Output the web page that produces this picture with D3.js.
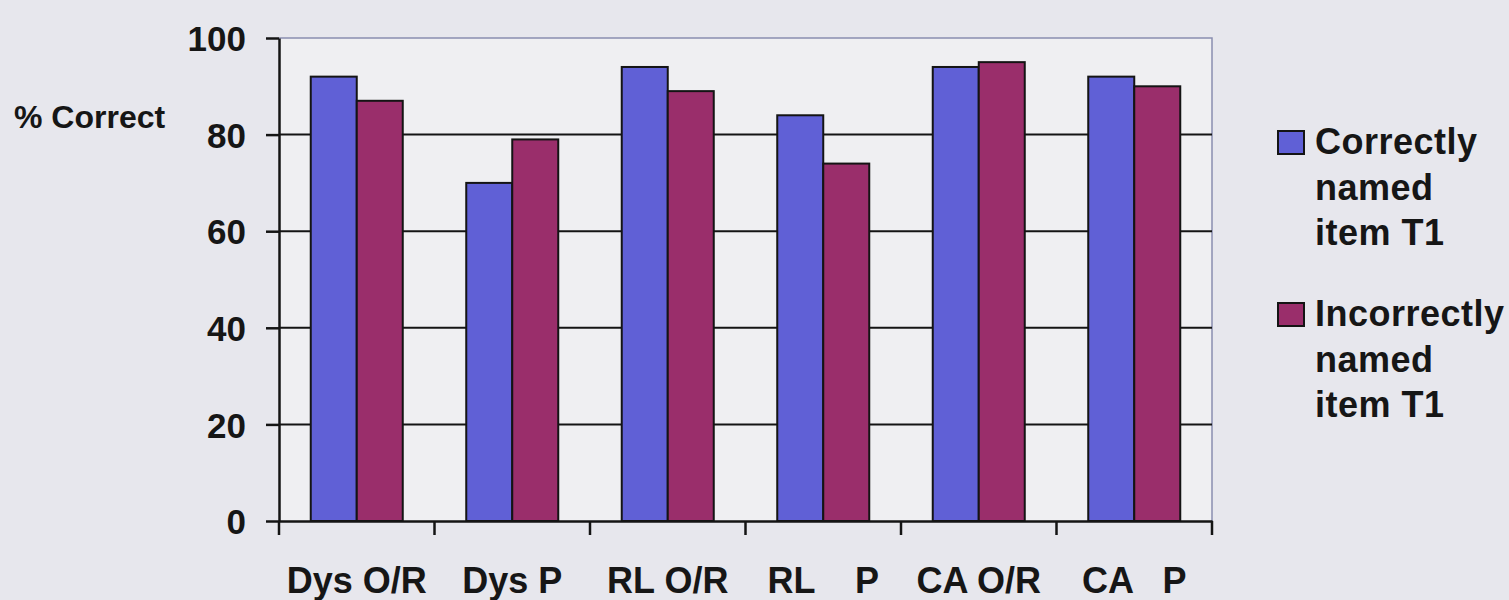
<!DOCTYPE html>
<html>
<head>
<meta charset="utf-8">
<script src="https://cdn.jsdelivr.net/npm/d3@7"></script>
<style>
  body { margin: 0; background: #e7e7ed; }
  text { font-family: "Liberation Sans", Arial, sans-serif; font-weight: bold; fill: #161616; }
</style>
</head>
<body>
<div id="chart"></div>
<script>
const categories = ['Dys O/R', 'Dys P', 'RL O/R', 'RL    P', 'CA O/R', 'CA   P']
const seriesNames = ['Correctly named item T1', 'Incorrectly named item T1']
const correctlyNamed = [92, 70, 94, 84, 94, 92]
const incorrectlyNamed = [87, 79, 89, 74, 95, 90]
const yTicks = [0, 20, 40, 60, 80, 100]
const legendLines = [['Correctly', 'named', 'item T1'], ['Incorrectly', 'named', 'item T1']]
const colors = ['#6060d6', '#9a2e6b']

const width = 1509
const height = 600
const plot = { left: 279, right: 1212, top: 38, bottom: 521 }

const svg = d3.select('#chart')
  .append('svg')
  .attr('width', width)
  .attr('height', height)

svg.append('rect')
  .attr('width', width)
  .attr('height', height)
  .attr('fill', '#e7e7ed')

const x = d3.scaleBand()
  .domain(categories)
  .range([plot.left, plot.right])
  .padding(0)

const xs = d3.scaleBand()
  .domain(seriesNames)
  .range([0, x.bandwidth()])
  .paddingInner(0)
  .paddingOuter(0.69)

const y = d3.scaleLinear()
  .domain([0, 100])
  .range([plot.bottom, plot.top])

// plot area
svg.append('rect')
  .attr('x', plot.left)
  .attr('y', plot.top)
  .attr('width', plot.right - plot.left)
  .attr('height', plot.bottom - plot.top)
  .attr('fill', '#efeff2')
  .attr('stroke', 'none')

svg.append('path')
  .attr('d', `M${plot.left},${plot.top}H${plot.right}V${plot.bottom}`)
  .attr('fill', 'none')
  .attr('stroke', '#8a8fb0')
  .attr('stroke-width', 1.5)

// gridlines
svg.append('g')
  .selectAll('line')
  .data(yTicks.filter(d => d > 0 && d < 100))
  .enter()
  .append('line')
  .attr('x1', plot.left)
  .attr('x2', plot.right)
  .attr('y1', d => y(d))
  .attr('y2', d => y(d))
  .attr('stroke', '#141414')
  .attr('stroke-width', 2)

// bars
const rows = categories.map((c, i) => ({ cat: c, values: [correctlyNamed[i], incorrectlyNamed[i]] }))

svg.append('g')
  .selectAll('g')
  .data(rows)
  .enter()
  .append('g')
  .attr('transform', d => `translate(${x(d.cat)},0)`)
  .selectAll('rect')
  .data(d => d.values.map((v, j) => ({ s: seriesNames[j], v, j })))
  .enter()
  .append('rect')
  .attr('x', d => xs(d.s))
  .attr('y', d => y(d.v))
  .attr('width', xs.bandwidth())
  .attr('height', d => y(0) - y(d.v))
  .attr('fill', d => colors[d.j])
  .attr('stroke', '#141414')
  .attr('stroke-width', 2)

// y axis
const yAxis = svg.append('g')
  .attr('transform', `translate(${plot.left},0)`)
  .call(d3.axisLeft(y).tickValues(yTicks).tickSize(13).tickSizeOuter(0).tickPadding(20))

yAxis.select('.domain').attr('stroke', '#141414').attr('stroke-width', 2.5)
yAxis.selectAll('.tick line').attr('stroke', '#141414').attr('stroke-width', 2.5)
yAxis.selectAll('.tick text')
  .attr('font-size', 35)
  .attr('dy', '0.36em')
  .style('font-family', '"Liberation Sans", Arial, sans-serif')
  .style('font-weight', 'bold')
  .attr('fill', '#161616')

// x axis
const xAxis = svg.append('g')
  .attr('transform', `translate(0,${plot.bottom})`)
  .call(d3.axisBottom(x).tickSize(0).tickPadding(0))

xAxis.select('.domain').attr('stroke', '#141414').attr('stroke-width', 2.5)
xAxis.selectAll('.tick text')
  .attr('y', 72)
  .attr('dy', 0)
  .attr('font-size', 36)
  .style('white-space', 'pre')
  .style('font-family', '"Liberation Sans", Arial, sans-serif')
  .style('font-weight', 'bold')
  .attr('fill', '#161616')

// category separators on x axis
svg.append('g')
  .selectAll('line')
  .data(categories.concat(['end']))
  .enter()
  .append('line')
  .attr('x1', (d, i) => i < categories.length ? x(d) : plot.right)
  .attr('x2', (d, i) => i < categories.length ? x(d) : plot.right)
  .attr('y1', plot.bottom)
  .attr('y2', plot.bottom + 14)
  .attr('stroke', '#141414')
  .attr('stroke-width', 2.5)

// y label
svg.append('text')
  .attr('x', 14)
  .attr('y', 128)
  .attr('font-size', 32)
  .text('% Correct')

// legend
const legendTop = [154, 326]
const legend = svg.append('g')
  .selectAll('g')
  .data(legendLines)
  .enter()
  .append('g')
  .attr('transform', (d, i) => `translate(1278,${legendTop[i]})`)

legend.append('rect')
  .attr('x', 0)
  .attr('y', -23)
  .attr('width', 26)
  .attr('height', 23)
  .attr('fill', (d, i) => colors[i])
  .attr('stroke', '#141414')
  .attr('stroke-width', 2)

legend.selectAll('text')
  .data(d => d)
  .enter()
  .append('text')
  .attr('x', 37)
  .attr('y', (d, i) => i * 45.5)
  .attr('font-size', 36)
  .attr('letter-spacing', 0.5)
  .text(d => d)
</script>
</body>
</html>
